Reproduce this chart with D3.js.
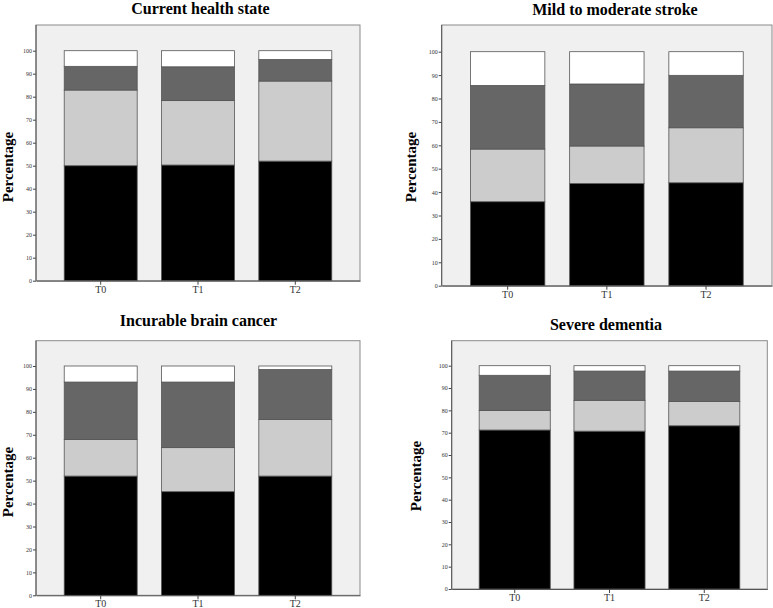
<!DOCTYPE html>
<html>
<head>
<meta charset="utf-8">
<script src="https://cdn.jsdelivr.net/npm/d3@7"></script>
<style>
	body { margin: 0; background: #fff; }
	svg { display: block; }
	.ttl { font-family: "Liberation Serif", "Times New Roman", serif; font-weight: bold; font-size: 16px; }
	.ylab { font-family: "Liberation Serif", "Times New Roman", serif; font-weight: bold; font-size: 15px; }
	.ytick text { font-family: "Liberation Serif", serif; font-size: 6px; fill: #333; }
	.xtick text { font-family: "Liberation Serif", serif; font-size: 10px; fill: #333; }
</style>
</head>
<body>
<svg id="chart"></svg>
<script>
// categories and ticks
var categories = ["T0", "T1", "T2"];
var yTicks = [0, 10, 20, 30, 40, 50, 60, 70, 80, 90, 100];
var titles = ["Current health state", "Mild to moderate stroke", "Incurable brain cancer", "Severe dementia"];
var segColors = ["#000000", "#cccccc", "#666666", "#ffffff"];

// segment percentages, bottom to top (one row per segment, one value per T)
var currentHealth = [
	[50.0, 50.3, 52.0],
	[32.9, 28.0, 34.8],
	[10.3, 14.7, 9.4],
	[6.8, 7.0, 3.8]
];
var mildStroke = [
	[35.9, 43.7, 44.0],
	[22.5, 16.0, 23.5],
	[27.2, 26.5, 22.4],
	[14.4, 13.8, 10.1]
];
var brainCancer = [
	[52.0, 45.2, 52.0],
	[16.0, 19.2, 24.7],
	[25.0, 28.6, 21.8],
	[7.0, 7.0, 1.5]
];
var severeDementia = [
	[71.2, 70.7, 73.1],
	[8.8, 13.8, 10.9],
	[15.7, 13.1, 13.6],
	[4.3, 2.4, 2.4]
];

var W = 773, H = 608;
var svg = d3.select("#chart").attr("width", W).attr("height", H);

// panel frames (pixel layout only)
var panels = [
	{data: currentHealth, left: 36, right: 360, top: 25, bottom: 280.7, y100: 50.7, tx: 200.5, ty: 13.5, lx: 13, ly: 167},
	{data: mildStroke, left: 441.7, right: 772, top: 25, bottom: 285.7, y100: 51.7, tx: 615, ty: 14.5, lx: 416, ly: 167},
	{data: brainCancer, left: 36, right: 360, top: 340.7, bottom: 595.3, y100: 366, tx: 198.5, ty: 326, lx: 13, ly: 482},
	{data: severeDementia, left: 451.7, right: 767.3, top: 340.7, bottom: 589, y100: 365.7, tx: 606, ty: 330, lx: 421, ly: 476}
];

panels.forEach(function (p, pi) {
	var g = svg.append("g");

	var x = d3.scaleBand()
			.domain(categories)
			.range([p.left, p.right])
			.paddingInner(0.25)
			.paddingOuter(0.29);

	var y = d3.scaleLinear()
			.domain([0, 100])
			.range([p.bottom, p.y100]);

	// plot background
	g.append("rect")
			.attr("x", p.left)
			.attr("y", p.top)
			.attr("width", p.right - p.left)
			.attr("height", p.bottom - p.top)
			.attr("fill", "#f0f0f0")
			.attr("stroke", "#8a8a8a")
			.attr("stroke-width", 1);

	// stacked segments
	var rows = categories.map(function (c, i) {
		var r = {cat: c};
		p.data.forEach(function (s, k) { r["s" + k] = s[i]; });
		return r;
	});
	var stack = d3.stack().keys(p.data.map(function (s, k) { return "s" + k; }));
	var layers = stack(rows);

	g.selectAll(".layer")
			.data(layers)
			.enter().append("g")
			.attr("fill", function (d, k) { return segColors[k]; })
			.selectAll("rect")
			.data(function (d) { return d; })
			.enter().append("rect")
			.attr("x", function (d) { return x(d.data.cat); })
			.attr("width", x.bandwidth())
			.attr("y", function (d) { return y(d[1]); })
			.attr("height", function (d) { return y(d[0]) - y(d[1]); })
			.attr("stroke", "#555")
			.attr("stroke-width", 0.8);

	// y axis
	var gy = g.append("g")
			.attr("class", "ytick")
			.attr("transform", "translate(" + p.left + ",0)")
			.call(d3.axisLeft(y).tickValues(yTicks).tickSizeInner(3).tickSizeOuter(0).tickPadding(1));
	gy.select(".domain").remove();
	gy.selectAll("line").attr("stroke", "#444");

	g.append("line")
			.attr("x1", p.left).attr("x2", p.left)
			.attr("y1", p.top).attr("y2", p.bottom)
			.attr("stroke", "#555");

	// x axis
	var gx = g.append("g")
			.attr("class", "xtick")
			.attr("transform", "translate(0," + p.bottom + ")")
			.call(d3.axisBottom(x).tickSizeInner(4).tickSizeOuter(0).tickPadding(2));
	gx.select(".domain").attr("stroke", "#555");
	gx.selectAll("line").attr("stroke", "#444");
	gx.selectAll("text").attr("dy", "0.6em");

	// title
	g.append("text")
			.attr("class", "ttl")
			.attr("x", p.tx)
			.attr("y", p.ty)
			.attr("text-anchor", "middle")
			.text(titles[pi]);

	// y label
	g.append("text")
			.attr("class", "ylab")
			.attr("text-anchor", "middle")
			.attr("transform", "translate(" + p.lx + "," + p.ly + ")rotate(-90)")
			.text("Percentage");
});
</script>
</body>
</html>
